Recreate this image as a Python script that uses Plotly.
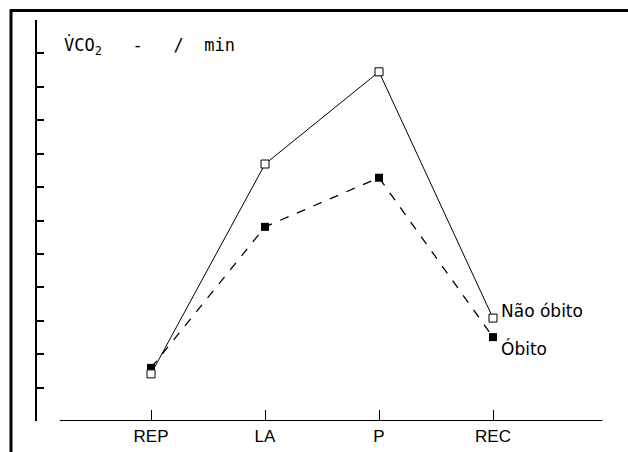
import plotly.graph_objects as go

categories = ["REP", "LA", "P", "REC"]
nao_obito = [1.41, 7.69, 10.45, 3.08]
obito = [1.59, 5.81, 7.28, 2.51]
y_ticks = list(range(0, 13))

xpos = list(range(len(categories)))

fig = go.Figure()
fig.add_trace(go.Scatter(
    x=xpos, y=obito, mode="lines+markers", name="Óbito",
    line=dict(color="black", width=1.3, dash="dash"),
    marker=dict(symbol="square", size=8, color="black"),
))
fig.add_trace(go.Scatter(
    x=xpos, y=nao_obito, mode="lines+markers", name="Não óbito",
    line=dict(color="black", width=1),
    marker=dict(symbol="square", size=8, color="white", line=dict(color="black", width=1)),
))

fig.update_layout(
    width=628, height=452,
    margin=dict(l=37, r=21, t=20, b=31, autoexpand=False),
    paper_bgcolor="white", plot_bgcolor="white",
    showlegend=False,
    xaxis=dict(range=[-1, 4], tickvals=xpos, ticktext=categories,
               ticks="inside", ticklen=11, tickwidth=1, tickcolor="black",
               showline=False, showgrid=False, zeroline=False,
               ticklabelstandoff=3,
               tickfont=dict(family="Liberation Sans", size=17, color="black")),
    yaxis=dict(range=[0, 12], tickvals=y_ticks, showticklabels=False,
               ticks="inside", ticklen=7, tickwidth=2, tickcolor="black",
               showline=True, linecolor="black", linewidth=2,
               showgrid=False, zeroline=False),
)

# x axis baseline
fig.add_shape(type="line", xref="x", yref="y", x0=-0.8, x1=3.96, y0=0, y1=0,
              line=dict(color="black", width=2))
# outer frame (top & left)
fig.add_shape(type="line", xref="paper", yref="paper", x0=-0.047, x1=1.04, y0=1.024, y1=1.024,
              line=dict(color="black", width=3))
fig.add_shape(type="line", xref="paper", yref="paper", x0=-0.0456, x1=-0.0456, y0=1.027, y1=-0.08,
              line=dict(color="black", width=3))

fig.add_annotation(xref="paper", yref="paper", x=(62 - 37) / 570, y=(421 - 46) / 401,
                   xanchor="left", yanchor="middle", showarrow=False,
                   text="V̇CO<sub>2</sub>   -   /  min",
                   font=dict(family="DejaVu Sans Mono", size=17, color="black"))
fig.add_annotation(x=3, y=nao_obito[3], xanchor="left", yanchor="middle", showarrow=False,
                   xshift=6, yshift=7, text="Não óbito",
                   font=dict(family="DejaVu Sans", size=17, color="black"))
fig.add_annotation(x=3, y=obito[3], xanchor="left", yanchor="middle", showarrow=False,
                   xshift=6, yshift=-11, text="Óbito",
                   font=dict(family="DejaVu Sans", size=17, color="black"))

fig.write_html("out.html", config={"displayModeBar": False},
               post_script="document.body.style.margin='0';document.body.style.padding='0';")
